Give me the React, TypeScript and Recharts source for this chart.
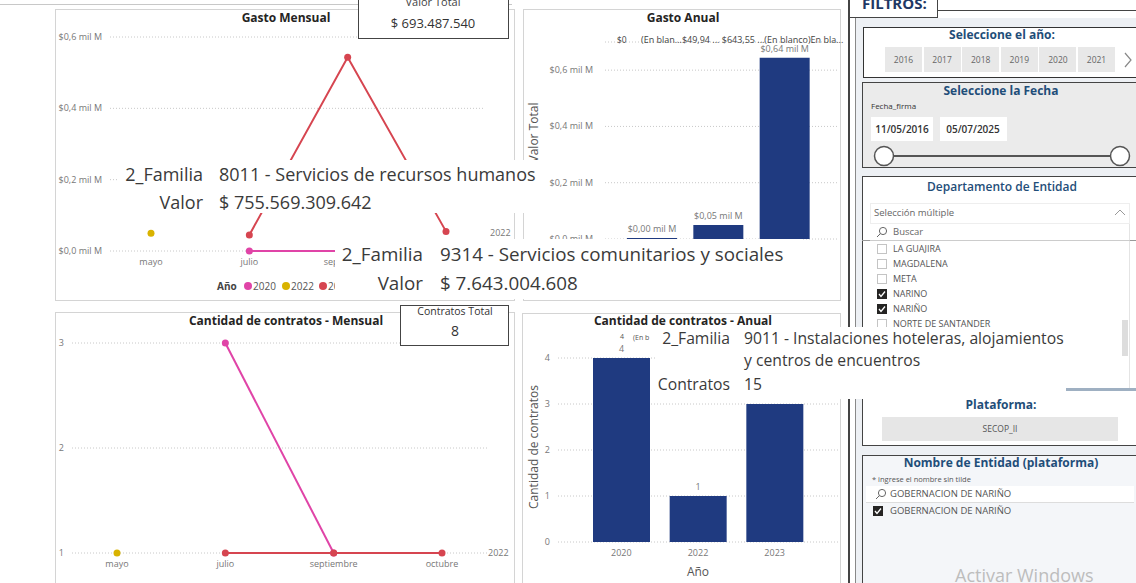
import React from "react";
import {
  LineChart,
  Line,
  BarChart,
  Bar,
  XAxis,
  YAxis,
  CartesianGrid,
  LabelList,
  ReferenceDot,
  Label,
} from "recharts";

const meses = ["mayo", "julio", "septiembre", "octubre"];
const gasto2020 = [null, 0, 0, null];
const gasto2022 = [0.05, null, null, null];
const gasto2023 = [null, 0.045, 0.543, 0.055];
const contratos2020 = [null, 3, 1, null];
const contratos2022 = [1, null, null, null];
const contratos2023 = [null, 1, 1, 1];

const anios = ["2020", "2022", "2023"];
const gastoAnual = [0.0, 0.0499, 0.6436];
const contratosAnual = [4, 1, 3];

const gastoTicks = [0, 0.2, 0.4, 0.6];
const mensualTicks = [1, 2, 3];
const anualTicks = [0, 1, 2, 3, 4];

const aniosFiltro = ["2016", "2017", "2018", "2019", "2020", "2021"];
const departamentos = ["LA GUAJIRA", "MAGDALENA", "META", "NARINO", "NARIÑO", "NORTE DE SANTANDER"];
const departamentosMarcados = [false, false, false, true, true, false];

const FONT = '"Segoe UI", "Open Sans", "DejaVu Sans", sans-serif';
const TICK = { fontSize: 9, fill: "#777", fontFamily: FONT };
const C2020 = "#E044A7";
const C2022 = "#D9B300";
const C2023 = "#D64550";
const BAR = "#1F3A80";
const BLUE = "#1F4E79";

const gastoMensualData = meses.map((mes, i) => ({
  mes,
  a2020: gasto2020[i],
  a2022: gasto2022[i],
  a2023: gasto2023[i],
}));
const contratosMensualData = meses.map((mes, i) => ({
  mes,
  a2020: contratos2020[i],
  a2022: contratos2022[i],
  a2023: contratos2023[i],
}));
const gastoAnualData = anios.map((anio, i) => ({ anio, valor: gastoAnual[i] }));
const contratosAnualData = anios.map((anio, i) => ({ anio, contratos: contratosAnual[i] }));

const fmtMil1 = (v: number) => `$${v.toFixed(1).replace(".", ",")} mil M`;
const fmtMil2 = (v: number) => `$${Number(v).toFixed(2).replace(".", ",")} mil M`;

// tick sin ajuste de linea
function PlainTick(props: any) {
  const { x, y, payload, fmt } = props;
  return (
    <text x={x} y={y} dy={3} textAnchor="end" fontSize={9} fill="#777" fontFamily={FONT}>
      {fmt ? fmt(payload.value) : payload.value}
    </text>
  );
}

function TopLabel(props: any) {
  const vb = props.viewBox || props;
  const { value, fmt } = props;
  return (
    <text
      x={vb.x + vb.width / 2}
      y={vb.y - 6}
      textAnchor="middle"
      fontSize={9}
      fill="#777"
      fontFamily={FONT}
    >
      {fmt ? fmt(value) : value}
    </text>
  );
}

function VerticalTitle(props: any) {
  const { viewBox, text, shiftX = 10, shiftY = 0 } = props;
  const x = viewBox.x + shiftX;
  const y = viewBox.y + viewBox.height / 2 + shiftY;
  return (
    <text
      x={x}
      y={y}
      transform={`rotate(-90 ${x} ${y})`}
      textAnchor="middle"
      dominantBaseline="central"
      fontSize={12}
      fill="#555"
      fontFamily={FONT}
    >
      {text}
    </text>
  );
}

function Txt(props: {
  x: number;
  y: number;
  size?: number;
  color?: string;
  weight?: number;
  align?: "left" | "center" | "right";
  children: React.ReactNode;
}) {
  const { x, y, size = 10, color = "#333", weight = 400, align = "left", children } = props;
  const style: React.CSSProperties = {
    position: "absolute",
    top: y - size * 0.6,
    fontSize: size,
    lineHeight: `${size * 1.2}px`,
    color,
    fontWeight: weight,
    fontFamily: FONT,
    whiteSpace: "nowrap",
  };
  if (align === "left") style.left = x;
  else if (align === "center") {
    style.left = x;
    style.transform = "translateX(-50%)";
  } else style.right = 1136 - x;
  return <div style={style}>{children}</div>;
}

function Box(props: { x: number; y: number; w: number; h: number; style?: React.CSSProperties }) {
  const { x, y, w, h, style } = props;
  return (
    <div
      style={{ position: "absolute", left: x, top: y, width: w, height: h, boxSizing: "border-box", ...style }}
    />
  );
}

function Check({ x, y, on }: { x: number; y: number; on: boolean }) {
  return (
    <svg style={{ position: "absolute", left: x, top: y - 5 }} width={11} height={11}>
      {on ? (
        <>
          <rect x={0} y={0} width={10} height={10} fill="#252423" />
          <polyline points="2,5 4,7.5 8,2.5" fill="none" stroke="#fff" strokeWidth={1.3} />
        </>
      ) : (
        <rect x={0.5} y={0.5} width={9} height={9} fill="#fff" stroke="#c4c4c4" />
      )}
    </svg>
  );
}

function Lupa({ x, y }: { x: number; y: number }) {
  return (
    <svg style={{ position: "absolute", left: x, top: y - 6 }} width={12} height={12}>
      <circle cx={7} cy={5} r={3.6} fill="none" stroke="#666" strokeWidth={1} />
      <line x1={4.4} y1={7.6} x2={1} y2={11} stroke="#666" strokeWidth={1} />
    </svg>
  );
}

function Tip(props: {
  x: number;
  y: number;
  w: number;
  h: number;
  size: number;
  labelRight: number;
  valueLeft: number;
  rows: { label?: string; value: string; y: number }[];
}) {
  const { x, y, w, h, size, labelRight, valueLeft, rows } = props;
  return (
    <>
      <Box x={x} y={y} w={w} h={h} style={{ background: "#fff" }} />
      {rows.map((r, i) => (
        <React.Fragment key={i}>
          {r.label ? (
            <Txt x={labelRight} y={r.y} size={size} color="#3a3a3a" align="right">
              {r.label}
            </Txt>
          ) : null}
          <Txt x={valueLeft} y={r.y} size={size} color="#3a3a3a">
            {r.value}
          </Txt>
        </React.Fragment>
      ))}
    </>
  );
}

const panelBorder: React.CSSProperties = { border: "1px solid #d4d4d4", background: "#fff" };
const darkBorder: React.CSSProperties = { border: "1px solid #444", background: "#fff" };

export default function App() {
  return (
    <div
      style={{
        position: "absolute",
        left: 0,
        top: 0,
        width: 1136,
        height: 583,
        overflow: "hidden",
        background: "#fff",
        fontFamily: FONT,
      }}
    >
      <Box x={0} y={4} w={512} h={1} style={{ background: "#c8c8c8" }} />
      {/* paneles */}
      <Box x={55} y={9} w={460} h={292} style={panelBorder} />
      <Box x={523} y={9} w={318} h={292} style={panelBorder} />
      <Box x={55} y={312} w={460} h={290} style={panelBorder} />
      <Box x={522} y={313} w={319} h={290} style={panelBorder} />

      {/* Gasto Mensual */}
      <div style={{ position: "absolute", left: 55, top: 9 }}>
        <LineChart
          width={460}
          height={292}
          data={gastoMensualData}
          margin={{ top: 28, right: 30, bottom: 30, left: 0 }}
        >
          <CartesianGrid vertical={false} stroke="#c8c8c8" strokeDasharray="1 2" />
          <XAxis
            dataKey="mes"
            height={20}
            tickLine={false}
            axisLine={false}
            tick={TICK}
            tickMargin={2}
            padding={{ left: 41, right: 39 }}
          />
          <YAxis
            width={55}
            domain={[0, 0.6]}
            ticks={gastoTicks}
            tickLine={false}
            axisLine={false}
            tick={<PlainTick fmt={fmtMil1} />}
          />
          <Line dataKey="a2020" stroke={C2020} strokeWidth={2} dot={{ r: 3.5, fill: C2020, strokeWidth: 0 }} isAnimationActive={false} />
          <Line dataKey="a2022" stroke={C2022} strokeWidth={2} dot={{ r: 3.5, fill: C2022, strokeWidth: 0 }} isAnimationActive={false} />
          <Line dataKey="a2023" stroke={C2023} strokeWidth={2} dot={{ r: 3.5, fill: C2023, strokeWidth: 0 }} isAnimationActive={false} />
          <ReferenceDot
            x="octubre"
            y={0.05}
            r={0}
            fill="none"
            stroke="none"
            label={{ value: "2022", position: "right", offset: 44, fontSize: 9, fill: "#777", fontFamily: FONT }}
          />
        </LineChart>
      </div>
      <Txt x={286} y={18} size={12} weight={700} color="#252423" align="center">
        Gasto Mensual
      </Txt>
      <Txt x={217} y={286} size={10} weight={700} color="#444">
        Año
      </Txt>
      {[
        { c: C2020, t: "2020", x: 244 },
        { c: C2022, t: "2022", x: 282 },
        { c: C2023, t: "2023", x: 319 },
      ].map((l) => (
        <React.Fragment key={l.t}>
          <Box x={l.x} y={282} w={8} h={8} style={{ background: l.c, borderRadius: 4 }} />
          <Txt x={l.x + 9} y={286} size={10} color="#555">
            {l.t}
          </Txt>
        </React.Fragment>
      ))}

      {/* Gasto Anual */}
      <div style={{ position: "absolute", left: 523, top: 9 }}>
        <BarChart
          width={317}
          height={292}
          data={gastoAnualData}
          margin={{ top: 33, right: 2, bottom: 42, left: 0 }}
        >
          <CartesianGrid vertical={false} stroke="#c8c8c8" strokeDasharray="1 2" />
          <XAxis
            dataKey="anio"
            height={20}
            tickLine={false}
            axisLine={false}
            tick={TICK}
            padding={{ left: 14, right: 20 }}
          />
          <YAxis
            width={82}
            domain={[0, 0.7]}
            ticks={gastoTicks}
            tickLine={false}
            axisLine={false}
            tickMargin={6}
            tick={<PlainTick fmt={fmtMil1} />}
            label={<VerticalTitle text="Valor Total" shiftX={10} shiftY={-8} />}
          />
          <Bar dataKey="valor" fill={BAR} barSize={50} minPointSize={1} isAnimationActive={false}>
            <LabelList dataKey="valor" content={<TopLabel fmt={fmtMil2} />} />
          </Bar>
        </BarChart>
      </div>
      <Txt x={683} y={18} size={12} weight={700} color="#252423" align="center">
        Gasto Anual
      </Txt>
      <Txt x={617} y={40} size={8.5} color="#444">
        $0
      </Txt>
      <Txt x={641} y={40} size={9} color="#444">
        (En blan...$49,94 ... $643,55 ...(En blanco)En bla...
      </Txt>

      {/* Valor total */}
      <Box x={358} y={-1} w={151} h={40} style={darkBorder} />
      <Txt x={433} y={2} size={11} color="#444" align="center">
        Valor Total
      </Txt>
      <Txt x={433} y={24} size={13} color="#333" align="center">
        $ 693.487.540
      </Txt>

      {/* Contratos mensual */}
      <div style={{ position: "absolute", left: 55, top: 312 }}>
        <LineChart
          width={460}
          height={271}
          data={contratosMensualData}
          margin={{ top: 31, right: 28, bottom: 10, left: 0 }}
        >
          <CartesianGrid vertical={false} stroke="#c8c8c8" strokeDasharray="1 2" />
          <XAxis
            dataKey="mes"
            height={20}
            tickLine={false}
            axisLine={false}
            tick={TICK}
            tickMargin={2}
            padding={{ left: 45, right: 45 }}
          />
          <YAxis
            width={17}
            domain={[1, 3]}
            ticks={mensualTicks}
            tickLine={false}
            axisLine={false}
            tick={<PlainTick />}
          />
          <Line dataKey="a2020" stroke={C2020} strokeWidth={2} dot={{ r: 3.5, fill: C2020, strokeWidth: 0 }} isAnimationActive={false} />
          <Line dataKey="a2022" stroke={C2022} strokeWidth={2} dot={{ r: 3.5, fill: C2022, strokeWidth: 0 }} isAnimationActive={false} />
          <Line dataKey="a2023" stroke={C2023} strokeWidth={2} dot={{ r: 3.5, fill: C2023, strokeWidth: 0 }} isAnimationActive={false} />
          <ReferenceDot
            x="octubre"
            y={1}
            r={0}
            fill="none"
            stroke="none"
            label={{ value: "2022", position: "right", offset: 46, fontSize: 9, fill: "#777", fontFamily: FONT }}
          />
        </LineChart>
      </div>
      <Txt x={286} y={321} size={12} weight={700} color="#252423" align="center">
        Cantidad de contratos - Mensual
      </Txt>
      <Box x={400} y={305} w={109} h={41} style={darkBorder} />
      <Txt x={455} y={311} size={10.5} color="#333" align="center">
        Contratos Total
      </Txt>
      <Txt x={455} y={331} size={14} color="#333" align="center">
        8
      </Txt>

      {/* Contratos anual */}
      <div style={{ position: "absolute", left: 523, top: 312 }}>
        <BarChart
          width={317}
          height={271}
          data={contratosAnualData}
          margin={{ top: 46, right: 2, bottom: 0, left: 0 }}
        >
          <CartesianGrid vertical={false} stroke="#c8c8c8" strokeDasharray="1 2" />
          <XAxis
            dataKey="anio"
            height={41}
            tickLine={false}
            axisLine={false}
            tick={TICK}
            tickMargin={2}
            padding={{ left: 25, right: 25 }}
          >
            <Label value="Año" position="insideBottom" offset={7} fontSize={12} fill="#555" fontFamily={FONT} />
          </XAxis>
          <YAxis
            width={35}
            domain={[0, 4]}
            ticks={anualTicks}
            tickLine={false}
            axisLine={false}
            tick={<PlainTick />}
            label={<VerticalTitle text="Cantidad de contratos" shiftX={10} shiftY={-3} />}
          />
          <Bar dataKey="contratos" fill={BAR} barSize={57} isAnimationActive={false}>
            <LabelList dataKey="contratos" content={<TopLabel />} />
          </Bar>
        </BarChart>
      </div>
      <Txt x={683} y={321} size={12} weight={700} color="#252423" align="center">
        Cantidad de contratos - Anual
      </Txt>
      <Txt x={620} y={337} size={7} color="#555">
        4
      </Txt>
      <Txt x={633} y={338} size={7} color="#555">
        (En b
      </Txt>

      {/* panel de filtros */}
      <Box x={856} y={18} w={280} h={565} style={{ background: "#EDF0F4" }} />
      <Box x={848} y={0} w={2} h={583} style={{ background: "#444" }} />
      <Box x={855} y={18} w={1} h={565} style={{ background: "#888" }} />
      <Box x={849} y={-6} w={89} h={24} style={{ ...darkBorder }} />
      <Txt x={862} y={3} size={15} weight={700} color="#1F3864">
        FILTROS:
      </Txt>
      <Box x={937} y={10} w={199} h={1} style={{ background: "#444" }} />

      <Box x={863} y={27} w={280} h={51} style={{ border: "1.5px solid #333", background: "#fff" }} />
      <Txt x={1002} y={35} size={12} weight={700} color={BLUE} align="center">
        Seleccione el año:
      </Txt>
      {aniosFiltro.map((a, i) => (
        <React.Fragment key={a}>
          <Box x={885 + i * 38.6} y={47} w={37} h={25} style={{ background: "#E8E8E8" }} />
          <Txt x={903.5 + i * 38.6} y={60} size={8.5} color="#666" align="center">
            {a}
          </Txt>
        </React.Fragment>
      ))}
      <svg style={{ position: "absolute", left: 1123, top: 52 }} width={10} height={16}>
        <polyline points="2,1 8,8 2,15" fill="none" stroke="#888" strokeWidth={1.2} />
      </svg>

      <Box x={862} y={82} w={280} h={86} style={{ border: "1.5px solid #444", background: "#EBEBEB" }} />
      <Txt x={1001} y={91} size={12} weight={700} color={BLUE} align="center">
        Seleccione la Fecha
      </Txt>
      <Txt x={871} y={106} size={8} color="#333">
        Fecha_firma
      </Txt>
      <Box x={871} y={117} w={62} h={24} style={{ background: "#fff" }} />
      <Box x={940} y={117} w={67} h={24} style={{ background: "#fff" }} />
      <Txt x={902} y={129} size={10} weight={600} color="#333" align="center">
        11/05/2016
      </Txt>
      <Txt x={973} y={129} size={10} weight={600} color="#333" align="center">
        05/07/2025
      </Txt>
      <svg style={{ position: "absolute", left: 870, top: 144 }} width={266} height={24}>
        <line x1={14} y1={12} x2={250} y2={12} stroke="#555" strokeWidth={2} />
        <circle cx={14} cy={12} r={9.5} fill="#fff" stroke="#555" strokeWidth={1.5} />
        <circle cx={250} cy={12} r={9.5} fill="#fff" stroke="#555" strokeWidth={1.5} />
      </svg>

      <Box x={862} y={176} w={280} h={213} style={{ border: "1.5px solid #444", background: "#fff" }} />
      <Box x={862} y={240} w={280} h={1} style={{ background: "#999" }} />
      <Txt x={1002} y={187} size={12} weight={600} color={BLUE} align="center">
        Departamento de Entidad
      </Txt>
      <Box x={870} y={203} w={260} h={21} style={{ border: "1px solid #eee", background: "#fff" }} />
      <Txt x={874} y={213} size={9.5} color="#666">
        Selección múltiple
      </Txt>
      <svg style={{ position: "absolute", left: 1114, top: 209 }} width={12} height={8}>
        <polyline points="1,6 6,1 11,6" fill="none" stroke="#999" strokeWidth={1} />
      </svg>
      <Box x={870} y={224} w={260} h={164} style={{ background: "#fff", borderRight: "1px solid #e4e4e4" }} />
      <Lupa x={876} y={232} />
      <Txt x={893} y={232} size={9.5} color="#666">
        Buscar
      </Txt>
      <Box x={870} y={240} w={260} h={1} style={{ background: "#ccc" }} />
      {departamentos.map((d, i) => (
        <React.Fragment key={d}>
          <Check x={877} y={249 + i * 15} on={departamentosMarcados[i]} />
          <Txt x={893} y={249 + i * 15} size={9} color="#555">
            {d}
          </Txt>
        </React.Fragment>
      ))}
      <Box x={1122} y={320} w={6} h={36} style={{ background: "#ddd" }} />

      <Box x={862} y={388} w={280} h={58} style={{ border: "1.5px solid #444", borderTop: "3px solid #9FB0C2", background: "#fff" }} />
      <Txt x={1001} y={405} size={12} weight={700} color={BLUE} align="center">
        Plataforma:
      </Txt>
      <Box x={882} y={417} w={236} h={24} style={{ background: "#E6E6E6" }} />
      <Txt x={1000} y={429} size={8.5} color="#555" align="center">
        SECOP_II
      </Txt>

      <Box x={862} y={455} w={280} h={140} style={{ border: "1.5px solid #444", background: "#F4F6F9" }} />
      <Txt x={1001} y={463} size={12} weight={700} color={BLUE} align="center">
        Nombre de Entidad (plataforma)
      </Txt>
      <Txt x={872} y={479} size={7.5} color="#555">
        * ingrese el nombre sin tilde
      </Txt>
      <Box x={866} y={486} w={268} h={17} style={{ background: "#fff", borderBottom: "1px solid #ddd" }} />
      <Lupa x={875} y={494} />
      <Txt x={890} y={494} size={9.5} color="#555">
        GOBERNACION DE NARIÑO
      </Txt>
      <Check x={873} y={511} on={true} />
      <Txt x={890} y={511} size={9.5} color="#555">
        GOBERNACION DE NARIÑO
      </Txt>
      <Txt x={955} y={576} size={18} color="#bdbdbd">
        Activar Windows
      </Txt>

      {/* tooltips superpuestos */}
      <Tip
        x={119}
        y={160}
        w={421}
        h={53}
        size={18}
        labelRight={203}
        valueLeft={219}
        rows={[
          { label: "2_Familia", value: "8011 - Servicios de recursos humanos", y: 175 },
          { label: "Valor", value: "$ 755.569.309.642", y: 203 },
        ]}
      />
      <Tip
        x={335}
        y={239}
        w={468}
        h={60}
        size={18.8}
        labelRight={423}
        valueLeft={440}
        rows={[
          { label: "2_Familia", value: "9314 - Servicios comunitarios y sociales", y: 254 },
          { label: "Valor", value: "$ 7.643.004.608", y: 283 },
        ]}
      />
      <Tip
        x={656}
        y={327}
        w={410}
        h={72}
        size={15.7}
        labelRight={730}
        valueLeft={744}
        rows={[
          { label: "2_Familia", value: "9011 - Instalaciones hoteleras, alojamientos", y: 338 },
          { value: "y centros de encuentros", y: 360 },
          { label: "Contratos", value: "15", y: 384 },
        ]}
      />
    </div>
  );
}
